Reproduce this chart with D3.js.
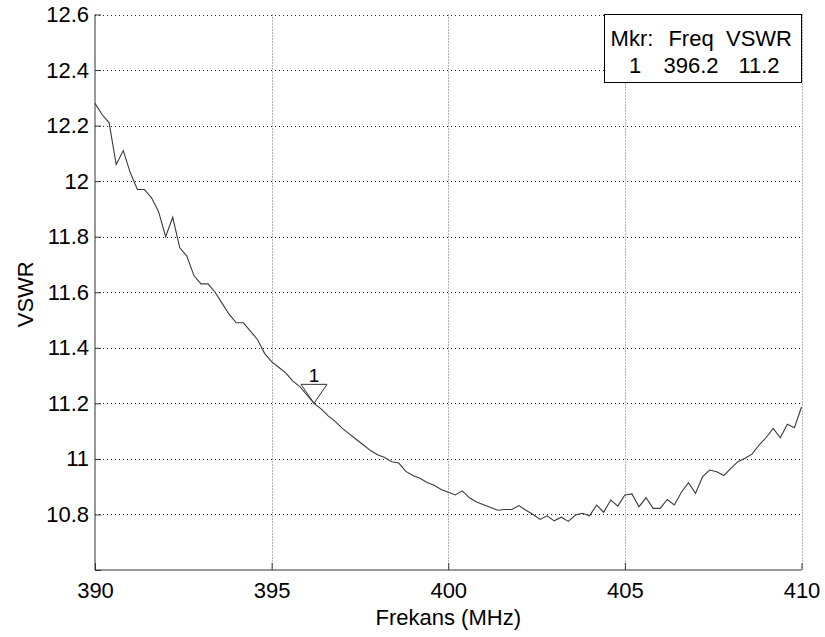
<!DOCTYPE html>
<html>
<head>
<meta charset="utf-8">
<script src="https://cdn.jsdelivr.net/npm/d3@7/dist/d3.min.js"></script>
<style>
  html, body { margin: 0; padding: 0; background: #fff; }
  svg { display: block; font-family: "Liberation Sans", Arial, sans-serif; }
</style>
</head>
<body>
<svg id="chart" width="825" height="637"></svg>
<script>
// ---- data ----
const freqs = [
  390.0, 390.2, 390.4, 390.6, 390.8, 391.0, 391.2, 391.4, 391.6, 391.8,
  392.0, 392.2, 392.4, 392.6, 392.8, 393.0, 393.2, 393.4, 393.6, 393.8,
  394.0, 394.2, 394.4, 394.6, 394.8, 395.0, 395.2, 395.4, 395.6, 395.8,
  396.0, 396.2, 396.4, 396.6, 396.8, 397.0, 397.2, 397.4, 397.6, 397.8,
  398.0, 398.2, 398.4, 398.6, 398.8, 399.0, 399.2, 399.4, 399.6, 399.8,
  400.0, 400.2, 400.4, 400.6, 400.8, 401.0, 401.2, 401.4, 401.6, 401.8,
  402.0, 402.2, 402.4, 402.6, 402.8, 403.0, 403.2, 403.4, 403.6, 403.8,
  404.0, 404.2, 404.4, 404.6, 404.8, 405.0, 405.2, 405.4, 405.6, 405.8,
  406.0, 406.2, 406.4, 406.6, 406.8, 407.0, 407.2, 407.4, 407.6, 407.8,
  408.0, 408.2, 408.4, 408.6, 408.8, 409.0, 409.2, 409.4, 409.6, 409.8,
  410.0
];
const vswr = [
  12.28, 12.24, 12.21, 12.06, 12.11, 12.03, 11.97, 11.97, 11.94, 11.89,
  11.80, 11.87, 11.76, 11.73, 11.66, 11.63, 11.63, 11.60, 11.56, 11.52,
  11.49, 11.49, 11.46, 11.43, 11.38, 11.35, 11.33, 11.31, 11.28, 11.26,
  11.23, 11.20, 11.18, 11.155, 11.135, 11.11, 11.09, 11.07, 11.05, 11.03,
  11.015, 11.005, 10.99, 10.985, 10.955, 10.94, 10.93, 10.915, 10.905, 10.89,
  10.88, 10.87, 10.885, 10.86, 10.845, 10.835, 10.825, 10.815, 10.818, 10.818,
  10.832, 10.815, 10.80, 10.782, 10.795, 10.777, 10.79, 10.775, 10.798, 10.804,
  10.795, 10.834, 10.808, 10.852, 10.83, 10.87, 10.874, 10.828, 10.86, 10.822,
  10.822, 10.854, 10.834, 10.880, 10.914, 10.876, 10.936, 10.96, 10.954, 10.94,
  10.966, 10.99, 11.002, 11.017, 11.05, 11.077, 11.11, 11.076, 11.125, 11.112,
  11.187
];
const xTicks = [390, 395, 400, 405, 410];
const yTicks = [10.8, 11, 11.2, 11.4, 11.6, 11.8, 12, 12.2, 12.4, 12.6];
const xDomain = [390, 410];
const yDomain = [10.6, 12.6];
const markerId = "1";
const markerFreq = 396.2;
const markerVswr = 11.2;
const legendHeader = ["Mkr:", "Freq", "VSWR"];
const legendRow = ["1", "396.2", "11.2"];
const xLabel = "Frekans (MHz)";
const yLabel = "VSWR";

// ---- layout ----
const pL = 95, pR = 801.5, pT = 14.5, pB = 570;
const svg = d3.select("#chart");
const x = d3.scaleLinear().domain(xDomain).range([pL, pR]);
const y = d3.scaleLinear().domain(yDomain).range([pB, pT]);
const fmt = v => String(+v.toFixed(1)).replace(/\.0$/, "");

// grid
const grid = svg.append("g");
grid.selectAll("line.h").data(yTicks).join("line")
  .attr("x1", pL).attr("x2", pR)
  .attr("y1", d => Math.round(y(d)) + 0.5).attr("y2", d => Math.round(y(d)) + 0.5)
  .attr("stroke", "#222").attr("stroke-width", 1).attr("stroke-dasharray", "1,3");
grid.selectAll("line.v").data(xTicks.slice(1)).join("line")
  .attr("x1", d => Math.round(x(d)) + 0.5).attr("x2", d => Math.round(x(d)) + 0.5)
  .attr("y1", pT).attr("y2", pB)
  .attr("stroke", "#666").attr("stroke-width", 1).attr("stroke-dasharray", "1,2");

// axes (MATLAB-style inward ticks)
const xAxis = d3.axisBottom(x).tickValues(xTicks).tickSize(-7).tickPadding(12).tickFormat(fmt);
const yAxis = d3.axisLeft(y).tickValues([10.6].concat(yTicks)).tickSize(-6).tickPadding(6)
  .tickFormat(d => d === 10.6 ? "" : fmt(d));

const gx = svg.append("g").attr("transform", `translate(0,${pB})`).call(xAxis);
const gy = svg.append("g").attr("transform", `translate(${pL},0)`).call(yAxis);
[gx, gy].forEach(g => {
  g.select(".domain").attr("stroke", "#333");
  g.selectAll(".tick line").attr("stroke", "#333");
  g.selectAll("text").attr("font-size", 22).attr("fill", "#000")
    .attr("font-family", "'Liberation Sans', Arial, sans-serif");
});
gx.select(".domain").attr("d", `M${pL},0H${pR}`);
gy.select(".domain").attr("d", `M0,${pB}V${pT}`);
gx.selectAll("text").attr("dy", "0.71em");

// axis labels
svg.append("text").attr("x", (pL + pR) / 2).attr("y", 625)
  .attr("text-anchor", "middle").attr("font-size", 22).text(xLabel);
svg.append("text")
  .attr("transform", `translate(33,${(pT + pB) / 2 + 2}) rotate(-90)`)
  .attr("text-anchor", "middle").attr("font-size", 22).text(yLabel);

// data line
const line = d3.line().x((d, i) => x(freqs[i])).y(d => y(d));
svg.append("path").datum(vswr).attr("d", line)
  .attr("fill", "none").attr("stroke", "#3a3a3a").attr("stroke-width", 1.1);

// marker
const mx = x(markerFreq), my = y(markerVswr);
svg.append("path")
  .attr("d", `M${mx},${my}L${mx - 13},${my - 19}L${mx + 13},${my - 19}Z`)
  .attr("fill", "none").attr("stroke", "#333").attr("stroke-width", 1);
svg.append("text").attr("x", mx).attr("y", my - 21.5)
  .attr("text-anchor", "middle").attr("font-size", 19).text(markerId);

// legend box
const lg = svg.append("g");
lg.append("rect").attr("x", 604.5).attr("y", 14.5).attr("width", 197).attr("height", 68)
  .attr("fill", "#fff").attr("stroke", "#000").attr("stroke-width", 1);
const colX = [632, 691, 759];
lg.selectAll("text.h").data(legendHeader).join("text")
  .attr("x", (d, i) => colX[i]).attr("y", 45.5)
  .attr("text-anchor", "middle").attr("font-size", 22).text(d => d);
lg.selectAll("text.r").data(legendRow).join("text")
  .attr("x", (d, i) => colX[i] + (i === 0 ? 3 : 0)).attr("y", 72.5)
  .attr("text-anchor", "middle").attr("font-size", 22).text(d => d);
</script>
</body>
</html>
